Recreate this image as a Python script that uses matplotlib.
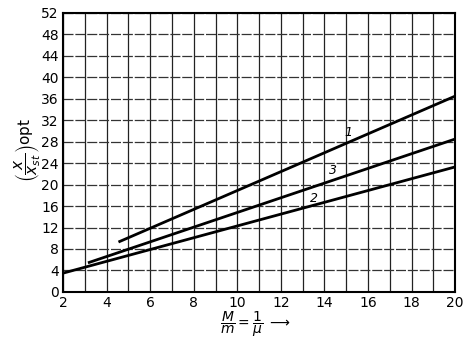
import matplotlib
matplotlib.use('Agg')
import matplotlib.pyplot as plt
import numpy as np

# --- Data ---
curve_labels = ['1', '3', '2']
curve_x = [[4.6, 20.0], [3.2, 20.0], [2.0, 20.0]]
curve_y = [[9.4, 36.5], [5.5, 28.5], [3.5, 23.3]]
label_pos = [(15.1, 29.8), (14.4, 22.6), (13.5, 17.5)]

x_ticks = list(range(2, 21, 2))
y_ticks = list(range(0, 53, 4))

fig = plt.figure(figsize=(4.64, 3.41), dpi=100)
ax = fig.add_axes([0.136, 0.144, 0.845, 0.818])

# grid: vertical every unit, horizontal every 4
for xv in range(2, 21):
    ax.axvline(xv, color='#222222', lw=0.9, zorder=1)
for yv in y_ticks:
    ax.axhline(yv, color='#333333', lw=0.9, ls=(0, (8, 1.5)), zorder=1)

for xs, ys in zip(curve_x, curve_y):
    ax.plot(xs, ys, color='black', lw=2.0, zorder=3)

for lab, (lx, ly) in zip(curve_labels, label_pos):
    ax.text(lx, ly, lab, fontsize=9, style='italic', ha='center', va='center')

ax.set_xlim(2, 20)
ax.set_ylim(0, 52)
ax.set_xticks(x_ticks)
ax.set_yticks(y_ticks)
ax.tick_params(length=0, labelsize=10, pad=3)
for s in ax.spines.values():
    s.set_linewidth(1.5)

fig.text(0.06, 0.56, r'$\left(\dfrac{x}{x_{st}}\right)$opt', rotation=90,
         ha='center', va='center', fontsize=11)
fig.text(0.55, 0.05, r'$\dfrac{M}{m} = \dfrac{1}{\mu}$ $\longrightarrow$',
         ha='center', va='center', fontsize=10)

fig.savefig('out.png', dpi=100)
